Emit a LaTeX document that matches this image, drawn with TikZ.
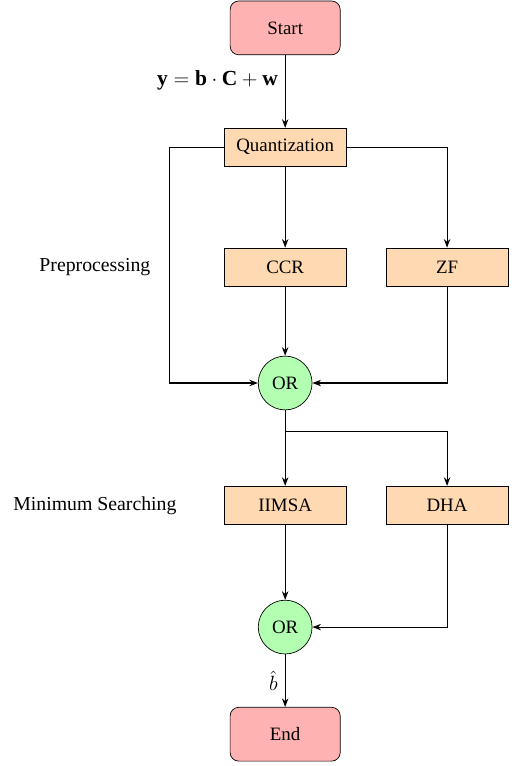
\documentclass[tikz,border=0pt]{standalone}
\usepackage{fontspec}
\setmainfont{Liberation Serif}
\usepackage{amsmath}
\usetikzlibrary{positioning,arrows.meta,shapes.geometric,calc}

\begin{document}
\begin{tikzpicture}[
  startstop/.style={draw, rounded corners=5pt, fill=red!30, minimum width=2.25cm,
                    minimum height=1.1cm, align=center, font=\fontsize{11}{13}\selectfont},
  process/.style={draw, fill=orange!30, minimum width=2.5cm,
                  minimum height=0.78cm, align=center, font=\fontsize{11}{13}\selectfont},
  decision/.style={draw, circle, fill=green!30, minimum size=1.1cm,
                   inner sep=0pt, font=\fontsize{11}{13}\selectfont},
  arr/.style={-{Stealth[length=5pt]}, semithick},
  phase/.style={font=\fontsize{11.5}{13}\selectfont, align=center},
  eqlabel/.style={font=\fontsize{12.5}{14}\selectfont, inner sep=4pt}
]
  \useasboundingbox (0,0) rectangle (10.49,-15.66);

  % Main column
  \node[startstop] (start) at (5.83,-0.57)  {Start};
  \node[process]   (quant) at (5.83,-3.01)  {Quantization};
  \node[process]   (ccr)   at (5.83,-5.46)  {CCR};
  \node[process]   (zf)    at (9.14,-5.46)  {ZF};
  \node[decision]  (or1)   at (5.83,-7.83)  {OR};
  \node[process]   (iimsa) at (5.83,-10.33) {IIMSA};
  \node[process]   (dha)   at (9.14,-10.33) {DHA};
  \node[decision]  (or2)   at (5.83,-12.82) {OR};
  \node[startstop] (stop)  at (5.83,-15.01) {End};

  % Phase labels on left
  \node[phase] (pre)  at (1.94,-5.46)  {Preprocessing};
  \node[phase] (mins) at (1.94,-10.33) {Minimum Searching};

  % Bend points
  \coordinate (bypass) at (3.46,-3.01);
  \coordinate (split)  at (5.83,-8.83);

  % Arrows
  \draw[arr] (start) -- node[left, pos=0.35, eqlabel]
    {$\mathbf{y}=\mathbf{b}\cdot\mathbf{C}+\mathbf{w}$} (quant);
  \draw[arr] (quant) -- (ccr);
  \draw[arr] (quant.east) -| (zf);
  \draw[arr] (quant.west) -- (bypass) |- (or1.west);
  \draw[arr] (ccr) -- (or1);
  \draw[arr] (zf) |- (or1.east);
  \draw[arr] (or1) -- (iimsa);
  \draw[arr] (or1.south) -- (split) -| (dha);
  \draw[arr] (iimsa) -- (or2);
  \draw[arr] (dha) |- (or2.east);
  \draw[arr] (or2) -- node[left, eqlabel] {$\hat{b}$} (stop);
\end{tikzpicture}
\end{document}
